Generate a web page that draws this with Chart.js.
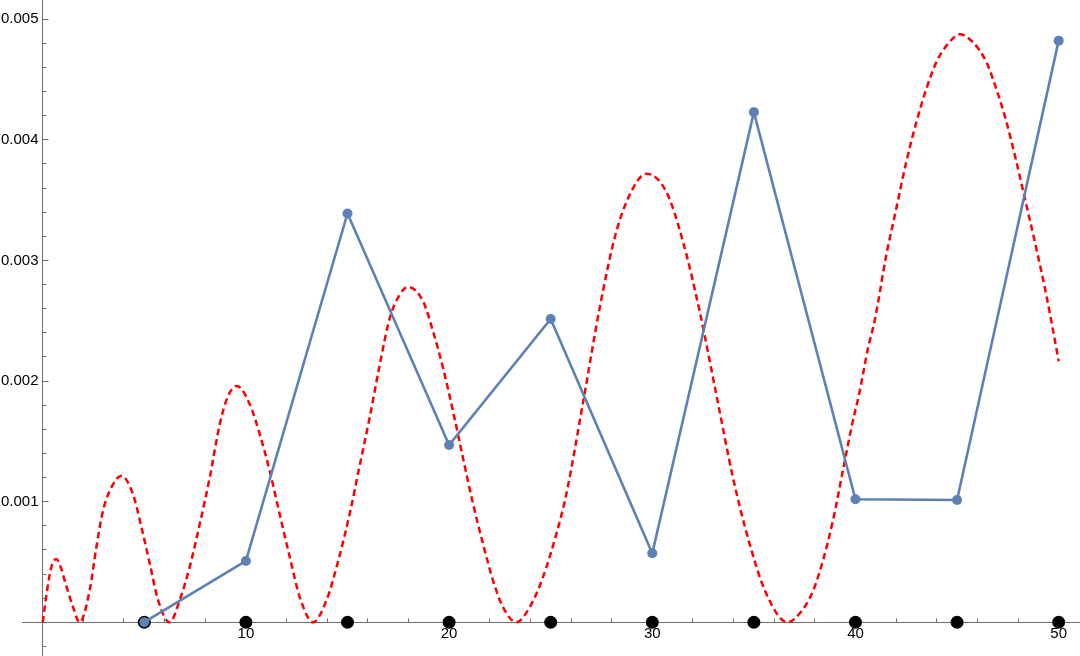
<!DOCTYPE html>
<html>
<head>
<meta charset="utf-8">
<script src="https://cdn.jsdelivr.net/npm/chart.js@4/dist/chart.umd.min.js"></script>
<style>
  html, body { margin: 0; padding: 0; background: #fff; }
  canvas { display: block; }
</style>
</head>
<body>
<canvas id="myChart" width="1080" height="656"></canvas>
<script>
// blue sample points (joined line)
const blueX = [5, 10, 15, 20, 25, 30, 35, 40, 45, 50];
const blueY = [0, 0.000508, 0.00339, 0.00147, 0.002515, 0.000572, 0.00423, 0.00102, 0.001014, 0.004823];

// black markers sitting on the axis
const dotX = [5, 10, 15, 20, 25, 30, 35, 40, 45, 50];
const dotY = [0, 0, 0, 0, 0, 0, 0, 0, 0, 0];

// red dashed curve
const redX = [0, 0.21, 0.43, 0.67, 0.9, 1.08, 1.49, 1.82,
	2.31, 2.64, 2.97, 3.38, 3.87,
	4.44, 4.86, 5.27, 5.68, 6.25,
	6.74, 7.23, 7.73, 8.22, 8.71, 9.12, 9.56,
	10.19, 10.68, 11.17, 11.66, 12.16, 12.65, 13.3,
	13.96, 14.53, 15.11, 15.6, 16.09, 16.59, 17.08, 17.57, 17.98,
	18.72, 19.21, 19.7, 20.19, 20.68, 21.18, 21.67, 22.16, 22.65, 23.31,
	23.97, 24.62, 25.28, 25.77, 26.59, 27.41, 28.23, 29.05, 29.71,
	30.69, 31.51, 32.33, 33.15, 33.97, 34.79, 35.61, 36.65,
	37.25, 37.91, 38.4, 38.89, 39.38, 39.8, 40.21, 40.62, 40.94,
	41.52, 42.01, 42.5, 43, 43.49, 43.98, 44.55, 45.13,
	45.78, 46.44, 46.93, 47.43, 47.92, 48.41, 48.9, 49.39, 49.64, 50];
const redY = [0, 0.00026, 0.00046, 0.000525, 0.00045, 0.000347, 0.000127, 0,
	0.000264, 0.000622, 0.000926, 0.001118, 0.001215,
	0.001063, 0.000788, 0.000485, 0.000182, 0,
	0.000182, 0.000457, 0.000816, 0.0012, 0.00164, 0.001876, 0.00196,
	0.001807, 0.00156, 0.001256, 0.000898, 0.00054, 0.000209, 0,
	0.00018, 0.0005, 0.0009, 0.0013, 0.001697, 0.002138, 0.002523, 0.002716, 0.00278,
	0.002661, 0.002413, 0.00211, 0.001752, 0.001366, 0.000981, 0.00065, 0.000347, 0.000126, 0,
	0.000126, 0.000374, 0.000733, 0.001063, 0.00182, 0.002606, 0.00324, 0.003598, 0.00372,
	0.00357, 0.003157, 0.002579, 0.00189, 0.0012, 0.00065, 0.000237, 0,
	0.000072, 0.00026, 0.000512, 0.000843, 0.001256, 0.001614, 0.001917, 0.002275, 0.002496,
	0.003047, 0.003432, 0.003818, 0.004149, 0.004424, 0.004645, 0.004796, 0.004875,
	0.00481, 0.004645, 0.004424, 0.004149, 0.003818, 0.00346, 0.0031, 0.002716, 0.002496, 0.002165];

// ticks
const xMajor = [10, 20, 30, 40, 50];
const xLabels = ["10", "20", "30", "40", "50"];
const xMinor = [2, 4, 6, 8, 12, 14, 16, 18, 22, 24, 26, 28, 32, 34, 36, 38, 42, 44, 46, 48];
const yMajor = [0.001, 0.002, 0.003, 0.004, 0.005];
const yLabels = ["0.001", "0.002", "0.003", "0.004", "0.005"];
const yMinor = [-0.0002, 0.0002, 0.0004, 0.0006, 0.0008, 0.0012, 0.0014, 0.0016, 0.0018,
	0.0022, 0.0024, 0.0026, 0.0028, 0.0032, 0.0034, 0.0036, 0.0038,
	0.0042, 0.0044, 0.0046, 0.0048];

const toPoints = (xs, ys) => xs.map((x, i) => ({ x: x, y: ys[i] }));

const axisColor = "#6e6e6e";
const labelFont = { family: "'Liberation Sans', Arial, sans-serif", size: 15 };

// axes sit inside the plot (at x=0 / y=0), so they must not eat any layout space
function axisCommon(min, max, pos) {
	return {
		type: "linear",
		min: min,
		max: max,
		position: pos,
		z: 1,
		afterFit: (s) => {
			s.width = 0;
			s.height = 0;
			s.paddingTop = 0;
			s.paddingBottom = 0;
			s.paddingLeft = 0;
			s.paddingRight = 0;
		},
	};
}

const ctx = document.getElementById("myChart").getContext("2d");
const myChart = new Chart(ctx, {
	type: "scatter",
	data: {
		datasets: [
			{
				label: "blue",
				data: toPoints(blueX, blueY),
				showLine: true,
				borderColor: "#5e81b5",
				backgroundColor: "#5e81b5",
				borderWidth: 2.6,
				pointRadius: 5,
				pointBorderWidth: 0,
				tension: 0,
			},
			{
				label: "red",
				data: toPoints(redX, redY),
				showLine: true,
				borderColor: "#ff0000",
				borderWidth: 2.5,
				borderDash: [6.5, 4],
				pointRadius: 0,
				cubicInterpolationMode: "monotone",
			},
			{
				label: "dots",
				data: toPoints(dotX, dotY),
				showLine: false,
				backgroundColor: "#000000",
				borderColor: "#000000",
				pointRadius: 6.5,
				pointBorderWidth: 0,
			},
		],
	},
	options: {
		responsive: false,
		animation: false,
		devicePixelRatio: 1,
		layout: { autoPadding: false, padding: { left: 22.4, top: 0, right: 0, bottom: 0 } },
		plugins: {
			legend: { display: false },
			tooltip: { enabled: false },
		},
		scales: {
			x: Object.assign(axisCommon(-1, 51.05, { y: 0 }), {
				afterBuildTicks: (s) => {
					s.ticks = xMajor.map((v) => ({ value: v }));
				},
				border: { display: true, color: axisColor, width: 1 },
				grid: { drawOnChartArea: false, drawTicks: true, tickLength: -6, tickColor: axisColor, tickWidth: 1 },
				ticks: {
					padding: 9,
					color: "#000",
					font: labelFont,
					callback: (v) => xLabels[xMajor.indexOf(v)],
				},
			}),
			xMin: Object.assign(axisCommon(-1, 51.05, { y: 0 }), {
				afterBuildTicks: (s) => {
					s.ticks = xMinor.map((v) => ({ value: v }));
				},
				border: { display: false },
				grid: { drawOnChartArea: false, drawTicks: true, tickLength: -3.5, tickColor: axisColor, tickWidth: 1 },
				ticks: { display: false },
			}),
			y: Object.assign(axisCommon(-0.00028, 0.00516, { x: 0 }), {
				afterBuildTicks: (s) => {
					s.ticks = yMajor.map((v) => ({ value: v }));
				},
				border: { display: true, color: axisColor, width: 1 },
				grid: { drawOnChartArea: false, drawTicks: true, tickLength: -6.5, tickColor: axisColor, tickWidth: 1 },
				ticks: {
					color: "#000",
					font: labelFont,
					// trailing space keeps the label off the axis line
					callback: (v) => yLabels[yMajor.indexOf(v)] + " ",
				},
			}),
			yMin: Object.assign(axisCommon(-0.00028, 0.00516, { x: 0 }), {
				afterBuildTicks: (s) => {
					s.ticks = yMinor.map((v) => ({ value: v }));
				},
				border: { display: false },
				grid: { drawOnChartArea: false, drawTicks: true, tickLength: -3.5, tickColor: axisColor, tickWidth: 1 },
				ticks: { display: false },
			}),
		},
	},
});
</script>
</body>
</html>
